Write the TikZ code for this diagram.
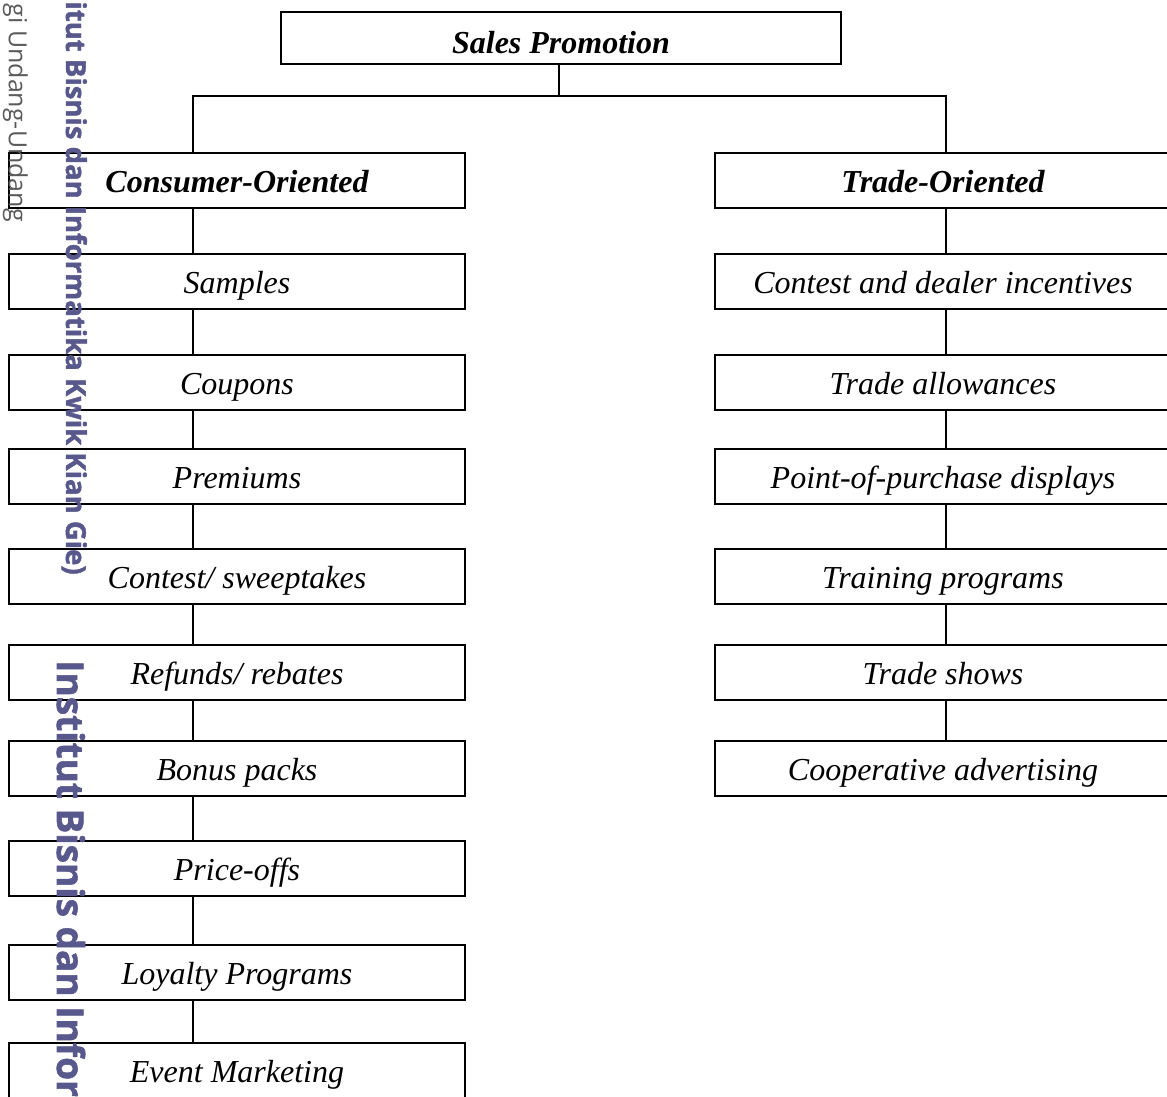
\documentclass[tikz,border=0pt]{standalone}
\usepackage{fontspec}
\setmainfont{Liberation Serif}
\newfontfamily\wmfont{Open Sans}[BoldFeatures={FakeBold=1.5}]
\usepackage{tikz}
\usetikzlibrary{calc}

\definecolor{wmblue}{RGB}{88,88,140}
\definecolor{wmgray}{RGB}{90,90,90}

\begin{document}
\begin{tikzpicture}[x=1pt, y=-1pt,
    box/.style={draw, line width=1.8pt, fill=white, minimum width=456pt, minimum height=55pt,
      inner sep=0pt, text height=27pt, text depth=4pt, font=\fontsize{32}{38}\selectfont\itshape},
    head/.style={box, font=\fontsize{32}{38}\selectfont\bfseries\itshape},
    link/.style={line width=1.8pt},
    wmark/.style={rotate=-90, inner sep=0pt}]
    \useasboundingbox (0,0) rectangle (1167,1096);

    \coordinate (lx) at (193,0);
    \coordinate (rx) at (946,0);
    \coordinate (mx) at (559,0);
    \coordinate (bus) at (0,96);

    % top and the two branches
    \node[head, minimum width=560pt, minimum height=52pt, text height=34pt] (top) at (561,38) {Sales Promotion};
    \node[head] (c0) at (237,180.5) {Consumer-Oriented};
    \node[head] (t0) at (943,180.5) {Trade-Oriented};

    \draw[link] (top.south -| mx) -- (mx |- bus);
    \draw[link] (c0.north -| lx) -- (lx |- bus) -- (rx |- bus) -- (t0.north -| rx);

    % consumer side
    \foreach \y/\txt [count=\i] in {281.5/Samples, 382.5/Coupons, 476.5/Premiums,
        576.5/{Contest/ sweeptakes}, 672.5/{Refunds/ rebates}, 768.5/Bonus packs,
        868.5/Price-offs, 972.5/Loyalty Programs, 1070.5/Event Marketing}
      \node[box] (c\i) at (237,\y) {\txt};
    \foreach \i [remember=\i as \j (initially 0)] in {1,...,9}
      \draw[link] (c\j.south -| lx) -- (c\i.north -| lx);

    % trade side
    \foreach \y/\txt [count=\i] in {281.5/Contest and dealer incentives, 382.5/Trade allowances,
        476.5/Point-of-purchase displays, 576.5/Training programs, 672.5/Trade shows,
        768.5/Cooperative advertising}
      \node[box] (t\i) at (943,\y) {\txt};
    \foreach \i [remember=\i as \j (initially 0)] in {1,...,6}
      \draw[link] (t\j.south -| rx) -- (t\i.north -| rx);

    % watermark along the left edge
    \node[wmark, anchor=base east, text=wmgray, font=\wmfont\fontsize{25}{29}\selectfont]
      (wm1) at (9,222) {gi Undang-Undang};
    \node[wmark, anchor=base east, text=wmblue, font=\wmfont\bfseries\fontsize{27.5}{32}\selectfont]
      (wm2) at (66,575) {itut Bisnis dan Informatika Kwik Kian Gie)};
    \node[wmark, anchor=base west, text=wmblue, font=\wmfont\bfseries\fontsize{37}{42}\selectfont]
      (wm3) at (57,660) {Institut Bisnis dan Infor};
\end{tikzpicture}
\end{document}
